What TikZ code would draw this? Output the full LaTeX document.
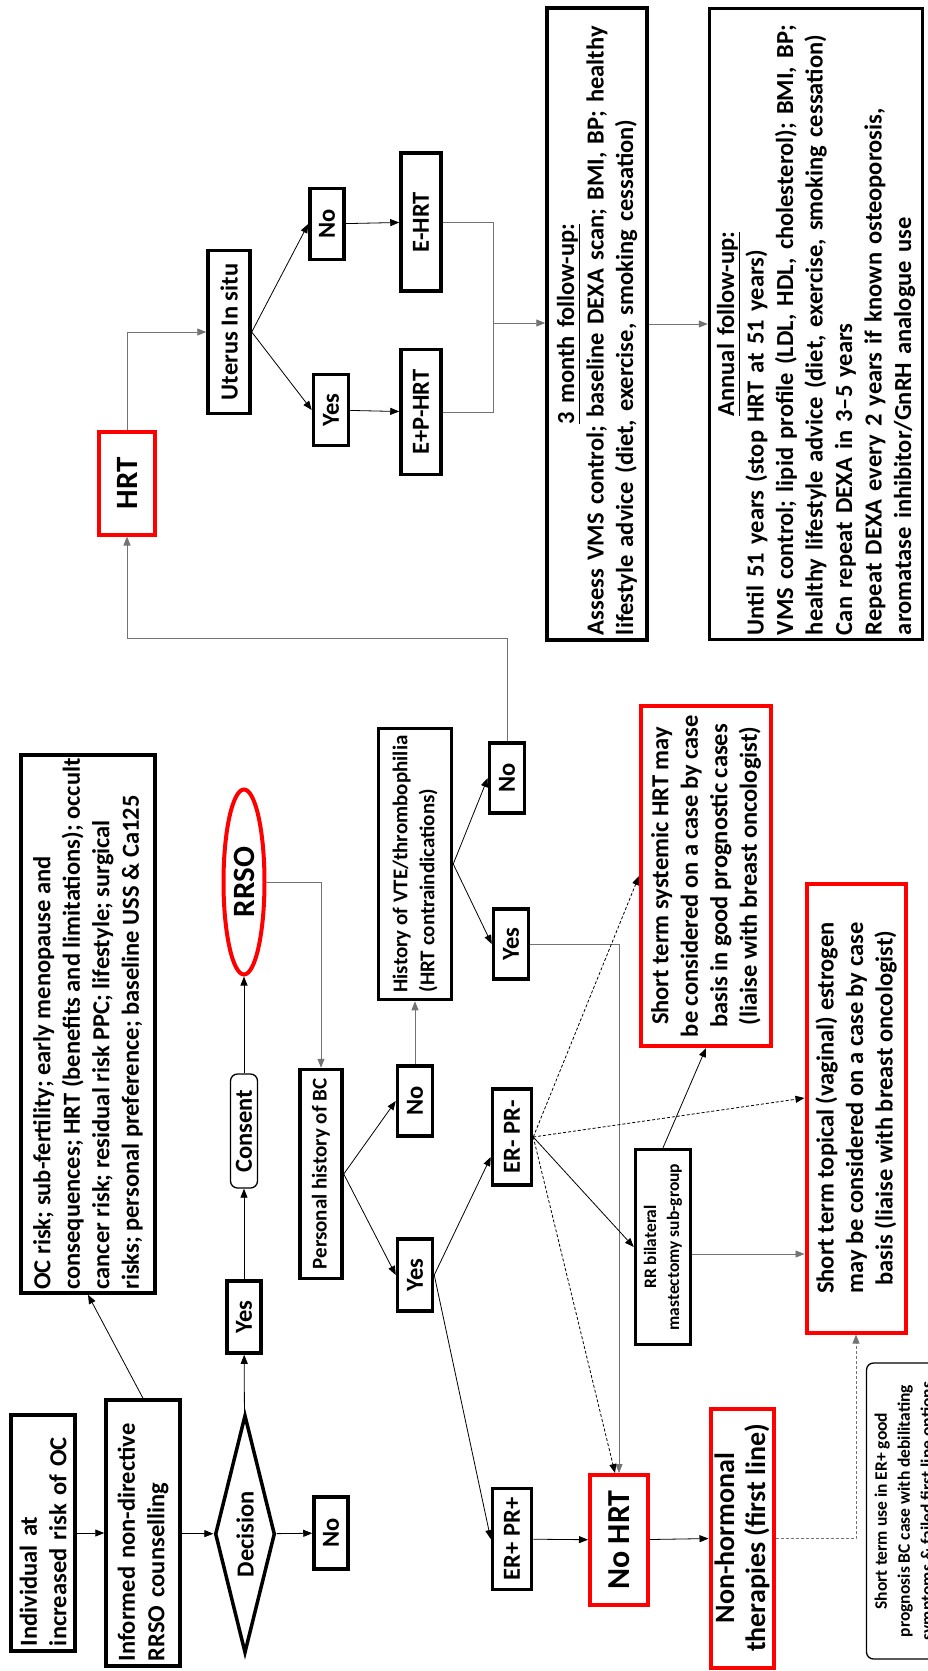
\documentclass[tikz,border=0pt]{standalone}
\usepackage{fontspec}
\setmainfont{Carlito}
\usetikzlibrary{shapes.geometric,arrows.meta}

\begin{document}
\begin{tikzpicture}[x=1pt,y=-1pt,
  every node/.style={rotate=90, font=\bfseries\fontsize{24.5}{29.5}\selectfont, inner sep=3pt},
  box/.style={draw, line width=3.5pt, align=center},
  redbox/.style={draw=red, line width=4pt, align=center},
  roundbox/.style={draw, line width=1.3pt, rounded corners=7pt, align=center},
  arr/.style={-{Triangle[length=9pt,width=7pt]}, line width=0.8pt},
  garr/.style={arr, draw=black!55},
  gline/.style={line width=0.8pt, draw=black!55},
  dasharr/.style={arr, dash pattern=on 3pt off 2pt},
  gdasharr/.style={dasharr, draw=black!55},
  bigfont/.style={font=\bfseries\fontsize{31}{33}\selectfont},
  midfont/.style={font=\bfseries\fontsize{28}{31}\selectfont},
  smallfont/.style={font=\bfseries\fontsize{21}{27}\selectfont},
  tinyfont/.style={font=\bfseries\fontsize{17.5}{23}\selectfont}]
  \useasboundingbox (0,0) rectangle (928,1671);

  \node[box, align=left, text width=226pt, minimum width=236pt, minimum height=64pt] (ind) at (43,1533) {Individual at\\increased risk of OC};
  \node[box, align=left, text width=256pt, minimum width=266pt, minimum height=74pt] (inf) at (143,1533) {Informed non-directive\\RRSO counselling};
  \node[box, align=left, minimum width=538pt, minimum height=134pt] (ocbox) at (88,1024) {OC risk; sub-fertility; early menopause and\\consequences; HRT (benefits and limitations); occult\\cancer risk; residual risk PPC; lifestyle; surgical\\risks; personal preference; baseline USS \& Ca125};
  \node[draw, diamond, line width=3.5pt, aspect=3.84, minimum width=238pt, minimum height=60pt, inner sep=0pt] (dec) at (245,1534) {Decision};
  \node[box, minimum width=72pt, minimum height=34pt] (decyes) at (244,1317) {Yes};
  \node[box, minimum width=72pt, minimum height=34pt] (decno) at (331,1533) {No};
  \node[roundbox, minimum width=114pt, minimum height=27pt, inner sep=1pt] (consent) at (244,1131) {Consent};
  \node[ellipse, draw=red, line width=4pt, bigfont, minimum width=185pt, minimum height=41pt, inner sep=1pt] (rrso) at (244,882) {RRSO};
  \node[box, smallfont, minimum width=209pt, minimum height=42pt, inner sep=2pt] (pers) at (321,1174) {Personal history of BC};
  \node[box, minimum width=72pt, minimum height=35pt] (bcyes) at (415,1275) {Yes};
  \node[box, minimum width=70pt, minimum height=35pt] (bcno) at (415,1101) {No};
  \node[box, smallfont, align=left, minimum width=271pt, minimum height=73pt] (vte) at (415,864) {History of VTE/thrombophilia\\(HRT contraindications)};
  \node[box, minimum width=70pt, minimum height=35pt] (vteno) at (507,778) {No};
  \node[box, minimum width=70pt, minimum height=35pt] (vteyes) at (511,944) {Yes};
  \node[redbox, bigfont, minimum width=103pt, minimum height=56pt] (hrt) at (127,483) {HRT};
  \node[box, minimum width=163pt, minimum height=42pt] (ut) at (229,332) {Uterus In situ};
  \node[box, minimum width=71pt, minimum height=34pt] (utno) at (327,224) {No};
  \node[box, minimum width=71pt, minimum height=35pt] (utyes) at (331,410) {Yes};
  \node[box, minimum width=138pt, minimum height=40pt] (ehrt) at (421,222) {E-HRT};
  \node[box, minimum width=125pt, minimum height=40pt] (ephrt) at (421,412) {E+P-HRT};
  \node[box, align=left, minimum width=632pt, minimum height=100pt, text width=622pt] (three) at (597,324)
    {\makebox[\linewidth]{\underline{3 month follow-up:}}\\Assess VMS control; baseline DEXA scan; BMI, BP; healthy\\lifestyle advice (diet, exercise, smoking cessation)};
  \node[box, align=left, minimum width=631pt, minimum height=213pt, text width=622pt] (annual) at (816,324)
    {\makebox[\linewidth]{\underline{Annual follow-up:}}\\Until 51 years (stop HRT at 51 years)\\VMS control; lipid profile (LDL, HDL, cholesterol); BMI, BP;\\healthy lifestyle advice (diet, exercise, smoking cessation)\\Can repeat DEXA in 3--5 years\\Repeat DEXA every 2 years if known osteoporosis,\\aromatase inhibitor/GnRH analogue use};
  \node[box, minimum width=96pt, minimum height=39pt] (erneg) at (512,1137) {ER- PR-};
  \node[box, minimum width=101pt, minimum height=39pt] (erpos) at (512,1539) {ER+ PR+};
  \node[redbox, font=\bfseries\fontsize{32}{34}\selectfont, minimum width=130pt, minimum height=58pt] (nohrt) at (619,1540) {No HRT};
  \node[redbox, midfont, minimum width=259pt, minimum height=63pt] (nonhorm) at (742,1538) {Non-hormonal\\therapies (first line)};
  \node[redbox, minimum width=340pt, minimum height=130pt] (systemic) at (706,876) {Short term systemic HRT may\\be considered on a case by case\\basis in good prognostic cases\\(liaise with breast oncologist)};
  \node[redbox, minimum width=449pt, minimum height=99pt] (topical) at (856,1108) {Short term topical (vaginal) estrogen\\may be considered on a case by case\\basis (liaise with breast oncologist)};
  \node[box, tinyfont, minimum width=195pt, minimum height=55pt] (rrbil) at (663,1247) {RR bilateral\\mastectomy sub-group};
  \node[roundbox, tinyfont, minimum width=296pt, minimum height=77pt] (shortuse) at (905,1511) {Short term use in ER+ good\\prognosis BC case with debilitating\\symptoms \& failed first line options};

  \draw[arr] (ind) -- (inf);
  \draw[arr] (inf.east) -- (ocbox.west);
  \draw[arr] (inf) -- (dec);
  \draw[arr] (dec) -- (decno);
  \draw[arr] (dec) -- (decyes);
  \draw[arr] (decyes) -- (consent);
  \draw[arr] (consent) -- (rrso);
  \draw[garr] (rrso) -| (pers);
  \draw[arr] (pers.south) -- (bcyes.north);
  \draw[arr] (pers.south) -- (bcno.north);
  \draw[garr] (bcno) -- (vte);
  \draw[arr] (vte.south) -- (vteno.north);
  \draw[arr] (vte.south) -- (vteyes.north);
  \draw[garr] (vteno.east) -- ++(0,-103) -| (hrt);
  \draw[garr] (hrt) |- (ut);
  \draw[arr] (ut.south) -- (utno.north);
  \draw[arr] (ut.south) -- (utyes.north);
  \draw[arr] (utno) -- (ehrt);
  \draw[arr] (utyes) -- (ephrt);
  \coordinate (merge) at (493,323);
  \draw[gline] (ehrt) -| (merge);
  \draw[gline] (ephrt) -| (merge);
  \draw[garr] (merge) -- (merge -| three.north);
  \draw[garr] (three) -- (annual);
  \draw[arr] (bcyes.south) -- ([yshift=-20pt]erneg.north);
  \draw[arr] (bcyes.south) -- (erpos.north);
  \draw[arr] (erpos) -- (nohrt);
  \draw[arr] (nohrt) -- (nonhorm);
  \draw[garr] (vteyes) -| (nohrt);
  \draw[dasharr] (erneg.south) -- (systemic.north);
  \draw[dasharr] (erneg.south) -- ([yshift=10pt]topical.north);
  \draw[arr] (erneg.south) -- (rrbil.north);
  \draw[dasharr] (erneg.south) -- ([xshift=-4pt]nohrt.east);
  \draw[arr] (rrbil.east) -- (systemic.west);
  \coordinate (rrout) at ([yshift=-7pt]rrbil.south);
  \draw[garr] (rrout) -- (rrout -| topical.north);
  \draw[gdasharr] (nonhorm) -| (topical);
\end{tikzpicture}
\end{document}
